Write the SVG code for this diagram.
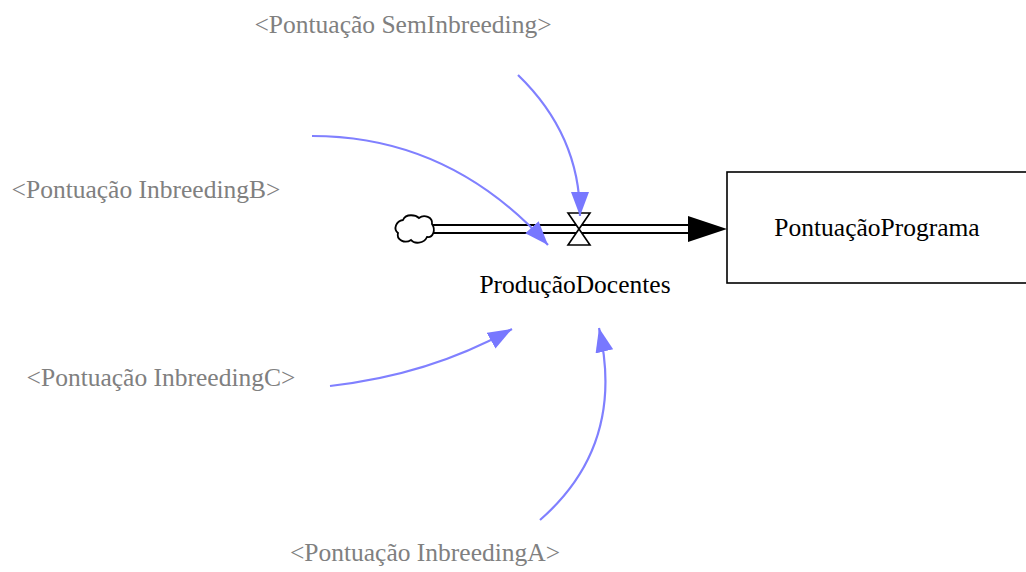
<svg xmlns="http://www.w3.org/2000/svg" width="1026" height="572" viewBox="0 0 1026 572">
<style>
.lbl{font-family:"Liberation Serif","Times New Roman",serif;font-size:25.5px;fill:#808080;text-anchor:middle}
.nm{font-family:"Liberation Serif","Times New Roman",serif;font-size:25.5px;fill:#000;text-anchor:middle}
.lnk{fill:none;stroke:#8080ff;stroke-width:2.2}
</style>
<defs>
<marker id="ah" markerUnits="userSpaceOnUse" markerWidth="26" markerHeight="20" refX="24" refY="9" orient="auto">
<path d="M0,0 L24,9 L0,18 Z" fill="#7878ff"/>
</marker>
</defs>
<rect width="1026" height="572" fill="#fff"/>
<g id="flow">
<path d="M432,225 H690 M432,233 H690" stroke="#000" stroke-width="1.8" fill="none"/>
<path d="M432,229 H690" stroke="#fff" stroke-width="5" fill="none"/>
<polygon points="688,216 727,229 688,242" fill="#000"/>
</g>
<g id="cloud">
<path d="M403,220 C406,213 416,215 419,218 C424,214 433,217 432,224 C436,230 433,238 427,237 C424,244 414,244 411,240 C405,244 396,240 398,233 C393,229 396,221 403,220 Z" fill="#fff" stroke="#000" stroke-width="1.8"/>
</g>
<g id="valve">
<polygon points="568,213 590,213 579,229" fill="#fff" stroke="#000" stroke-width="1.6"/>
<polygon points="568,245 590,245 579,229" fill="#fff" stroke="#000" stroke-width="1.6"/>
</g>
<g id="ProducaoDocentes">
<text class="nm" x="575" y="293">ProduçãoDocentes</text>
</g>
<g id="PontuacaoPrograma">
<rect x="727" y="172" width="330" height="111" fill="#fff" stroke="#000" stroke-width="1.6"/>
<text class="nm" x="877" y="236">PontuaçãoPrograma</text>
</g>
<g id="SemInbreeding"><text class="lbl" x="403" y="33">&lt;Pontuação SemInbreeding&gt;</text></g>
<g id="InbreedingB"><text class="lbl" x="146" y="198">&lt;Pontuação InbreedingB&gt;</text></g>
<g id="InbreedingC"><text class="lbl" x="161" y="386">&lt;Pontuação InbreedingC&gt;</text></g>
<g id="InbreedingA"><text class="lbl" x="425" y="561">&lt;Pontuação InbreedingA&gt;</text></g>
<g id="connectors">
<path class="lnk" d="M518,75 Q580,135 580,216" marker-end="url(#ah)"/>
<path class="lnk" d="M312,136 Q450,136 548,245" marker-end="url(#ah)"/>
<path class="lnk" d="M330,386 Q430,375 512,329" marker-end="url(#ah)"/>
<path class="lnk" d="M540,520 Q626,445 599,328" marker-end="url(#ah)"/>
</g>
</svg>
